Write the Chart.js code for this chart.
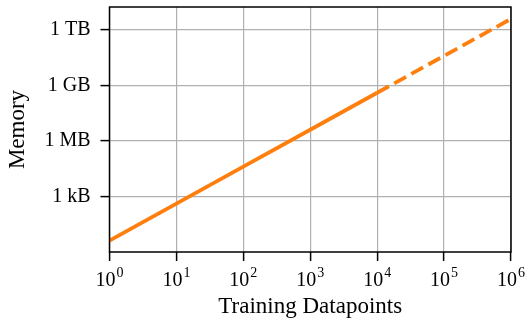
<!DOCTYPE html>
<html>
<head>
<meta charset="utf-8">
<script src="https://cdn.jsdelivr.net/npm/chart.js@4.4.1/dist/chart.umd.min.js"></script>
<style>
  html, body { margin: 0; padding: 0; background: #fff; }
</style>
</head>
<body>
<canvas id="memoryChart" width="529" height="322"></canvas>
<script>
// measured curve (solid part) and its extrapolation (dashed part)
var measuredPoints = [1, 10, 100, 1000, 10000];
var measuredMemory = [4, 4e2, 4e4, 4e6, 4e8];
var projectedPoints = [1e4, 1e5, 1e6];
var projectedMemory = [4e8, 4e10, 4e12];

var xTickValues = [1, 10, 100, 1e3, 1e4, 1e5, 1e6];
var xTickBase = '10';
var xTickExponents = ['0', '1', '2', '3', '4', '5', '6'];
var yTickValues = [1e3, 1e6, 1e9, 1e12];
var yTickLabels = ['1 kB', '1 MB', '1 GB', '1 TB'];

var lineColor = '#ff7f0e';
var serif = '"Liberation Serif", "DejaVu Serif", serif';

function toXY(xs, ys) {
  return xs.map(function (x, i) { return { x: x, y: ys[i] }; });
}

// black box around the plot area
var framePlugin = {
  id: 'frame',
  afterDatasetsDraw: function (chart) {
    var a = chart.chartArea;
    var ctx = chart.ctx;
    ctx.save();
    ctx.strokeStyle = '#000';
    ctx.lineWidth = 1.5;
    ctx.strokeRect(a.left, a.top, a.right - a.left, a.bottom - a.top);
    ctx.restore();
  }
};

// x tick labels as 10 with a raised exponent
var powerLabels = {
  id: 'powerLabels',
  afterDraw: function (chart) {
    var scale = chart.scales.x;
    var ctx = chart.ctx;
    var baseline = chart.chartArea.bottom + 34;
    ctx.save();
    ctx.fillStyle = '#000';
    ctx.textBaseline = 'alphabetic';
    ctx.textAlign = 'left';
    xTickValues.forEach(function (v, i) {
      var px = scale.getPixelForValue(v);
      ctx.font = '20px ' + serif;
      var wb = ctx.measureText(xTickBase).width;
      ctx.font = '14px ' + serif;
      var we = ctx.measureText(xTickExponents[i]).width;
      var start = px - (wb + we + 1) / 2;
      ctx.font = '20px ' + serif;
      ctx.fillText(xTickBase, start, baseline);
      ctx.font = '14px ' + serif;
      ctx.fillText(xTickExponents[i], start + wb + 1, baseline - 9);
    });
    ctx.restore();
  }
};

var ctx = document.getElementById('memoryChart').getContext('2d');
var chart = new Chart(ctx, {
  type: 'line',
  data: {
    datasets: [{
      data: toXY(measuredPoints, measuredMemory),
      borderColor: lineColor,
      borderWidth: 3.8,
      pointRadius: 0,
      fill: false,
      tension: 0
    }, {
      data: toXY(projectedPoints, projectedMemory),
      borderColor: lineColor,
      borderWidth: 3.8,
      borderDash: [13.5, 6],
      pointRadius: 0,
      fill: false,
      tension: 0
    }]
  },
  options: {
    responsive: false,
    animation: false,
    devicePixelRatio: 1,
    layout: { padding: { top: 7, right: 18, left: 0, bottom: 0 } },
    plugins: {
      legend: { display: false },
      tooltip: { enabled: false }
    },
    scales: {
      x: {
        type: 'logarithmic',
        min: 1,
        max: 1e6,
        afterBuildTicks: function (scale) {
          scale.ticks = xTickValues.map(function (v) { return { value: v }; });
        },
        afterFit: function (scale) {
          scale.height = 70;
          scale.paddingLeft = 0;
          scale.paddingRight = 0;
        },
        ticks: {
          autoSkip: false,
          maxRotation: 0,
          padding: 4,
          color: 'rgba(0,0,0,0)',
          font: { family: serif, size: 20 },
          callback: function (value, index) { return xTickBase + '^' + xTickExponents[index]; }
        },
        grid: { color: '#b0b0b0', lineWidth: 1.2, tickColor: '#000', tickWidth: 1.5, tickLength: 9 },
        border: { display: false },
        title: {
          display: true,
          text: 'Training Datapoints',
          color: '#000',
          font: { family: serif, size: 23 },
          padding: { top: 0, bottom: 1 }
        }
      },
      y: {
        type: 'logarithmic',
        min: 0.96,
        max: 1.76e13,
        afterBuildTicks: function (scale) {
          scale.ticks = yTickValues.map(function (v) { return { value: v }; });
        },
        afterFit: function (scale) {
          scale.width = 109.5;
          scale.paddingTop = 0;
          scale.paddingBottom = 0;
        },
        ticks: {
          autoSkip: false,
          padding: 10,
          color: '#000',
          font: { family: serif, size: 20 },
          callback: function (value, index) { return yTickLabels[index]; }
        },
        grid: { color: '#b0b0b0', lineWidth: 1.2, tickColor: '#000', tickWidth: 1.5, tickLength: 9 },
        border: { display: false },
        title: {
          display: true,
          text: 'Memory',
          color: '#000',
          font: { family: serif, size: 23 },
          padding: { top: 4, bottom: 0 }
        }
      }
    }
  },
  plugins: [framePlugin, powerLabels]
});
</script>
</body>
</html>
